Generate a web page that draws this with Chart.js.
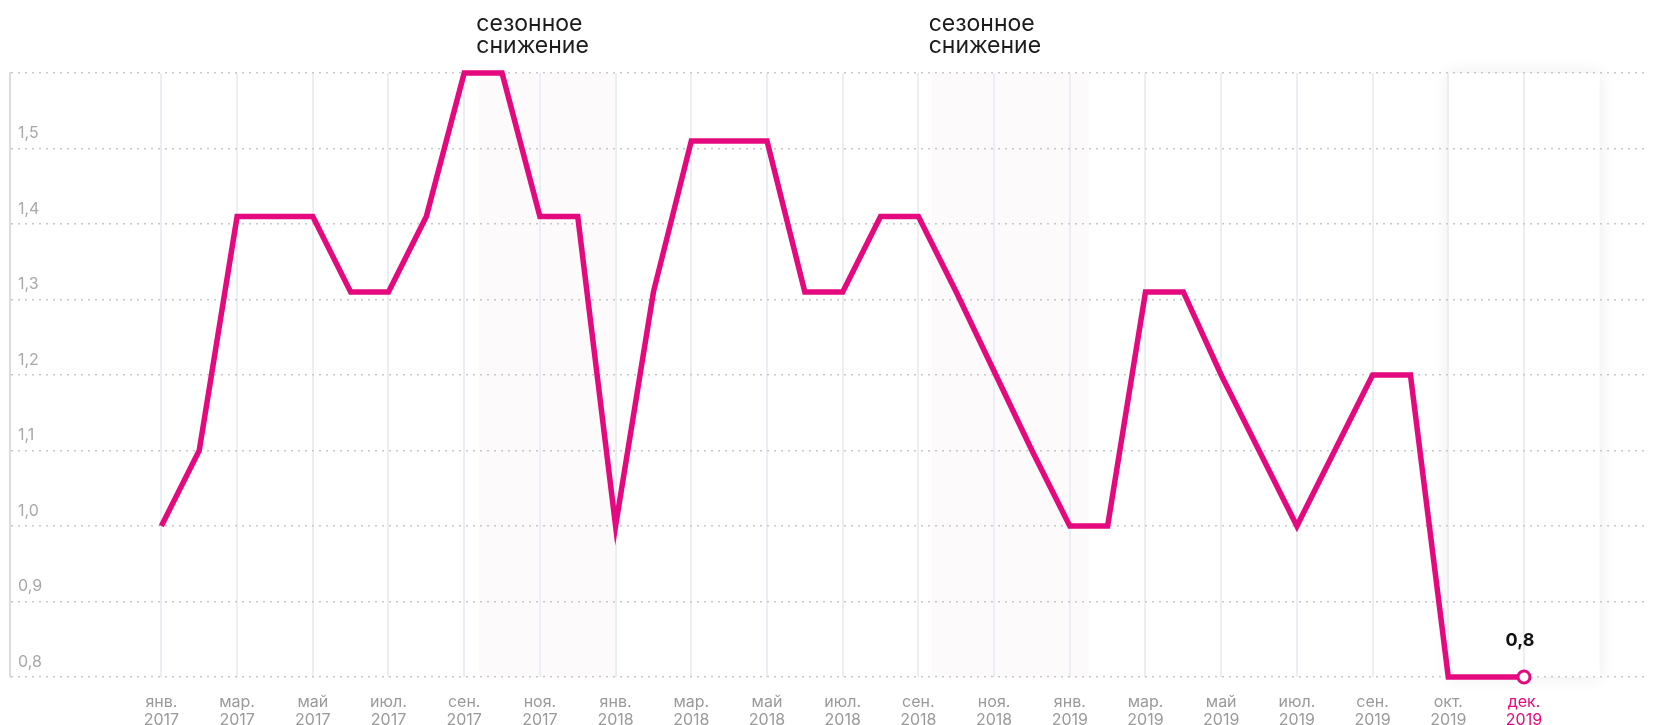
<!DOCTYPE html>
<html>
<head>
<meta charset="utf-8">
<script src="https://cdn.jsdelivr.net/npm/chart.js@4"></script>
<style>
    body { margin: 0; background: #fff; }
    .chart-wrap { position: relative; width: 1656px; height: 725px; }
</style>
</head>
<body>
<div class="chart-wrap"><canvas id="rateChart"></canvas></div>
<script>
// Monthly values, Jan 2017 .. Dec 2019 (index = month number)
const values = [
    1.0, 1.1, 1.41, 1.41, 1.41, 1.31, 1.31, 1.41, 1.6, 1.6, 1.41, 1.41,
    1.0, 1.31, 1.51, 1.51, 1.51, 1.31, 1.31, 1.41, 1.41, 1.31, 1.205, 1.1,
    1.0, 1.0, 1.31, 1.31, 1.2, 1.1, 1.0, 1.1, 1.2, 1.2, 0.8, 0.8, 0.8
];

// Tick labels, one for every second month
const tickMonths = ['янв.', 'мар.', 'май', 'июл.', 'сен.', 'ноя.', 'янв.', 'мар.', 'май', 'июл.',
    'сен.', 'ноя.', 'янв.', 'мар.', 'май', 'июл.', 'сен.', 'окт.', 'дек.'];
const tickYears = ['2017', '2017', '2017', '2017', '2017', '2017', '2018', '2018', '2018', '2018',
    '2018', '2018', '2019', '2019', '2019', '2019', '2019', '2019', '2019'];

const yTicks = [0.8, 0.9, 1.0, 1.1, 1.2, 1.3, 1.4, 1.5, 1.6];

// Seasonal decline periods (in month index units) and their caption
const seasonBands = [[8.4, 12.0], [20.35, 24.5]];
const seasonCaption = ['сезонное', 'снижение'];
const highlightRange = [34, 38];

const PINK = '#e5097f';
const FONT = 'Inter, "Open Sans", sans-serif';
const lastIdx = values.length - 1;

const decorPlugin = {
    id: 'decor',
    beforeDraw(chart) {
        const { ctx, scales: { x, y } } = chart;
        const top = y.getPixelForValue(1.6);
        const bottom = y.getPixelForValue(0.8);

        // seasonal bands
        ctx.save();
        ctx.fillStyle = '#fdfafc';
        seasonBands.forEach(b => {
            const x0 = x.getPixelForValue(b[0]);
            const x1 = x.getPixelForValue(b[1]);
            ctx.fillRect(x0, top, x1 - x0, bottom - top);
        });
        ctx.restore();

        // highlighted last period
        ctx.save();
        const hx0 = x.getPixelForValue(highlightRange[0]);
        const hx1 = x.getPixelForValue(highlightRange[1]);
        ctx.shadowColor = 'rgba(0,0,0,0.08)';
        ctx.shadowBlur = 16;
        ctx.fillStyle = '#fff';
        ctx.fillRect(hx0, top, hx1 - hx0, bottom - top);
        ctx.restore();

        // captions
        ctx.save();
        ctx.fillStyle = '#1c1c1c';
        ctx.font = '23px ' + FONT;
        ctx.textAlign = 'left';
        ctx.textBaseline = 'alphabetic';
        seasonBands.forEach(b => {
            const bx = x.getPixelForValue(b[0]) - 3;
            ctx.fillText(seasonCaption[0], bx, 31);
            ctx.fillText(seasonCaption[1], bx, 53);
        });
        ctx.restore();
    },
    afterDatasetsDraw(chart) {
        const { ctx } = chart;
        const pt = chart.getDatasetMeta(0).data[lastIdx];
        ctx.save();
        ctx.fillStyle = '#111';
        ctx.font = 'bold 18px ' + FONT;
        ctx.textAlign = 'center';
        ctx.textBaseline = 'middle';
        ctx.fillText(values[lastIdx].toString().replace('.', ','), pt.x - 4, pt.y - 36);
        ctx.restore();
    }
};

const ctx = document.getElementById('rateChart').getContext('2d');
new Chart(ctx, {
    type: 'line',
    data: {
        datasets: [{
            data: values.map((v, i) => ({ x: i, y: v })),
            borderColor: PINK,
            borderWidth: 5.5,
            fill: false,
            tension: 0,
            clip: false,
            pointRadius: values.map((v, i) => i === lastIdx ? 6 : 0),
            pointBackgroundColor: '#fff',
            pointBorderColor: PINK,
            pointBorderWidth: 3,
            pointHoverRadius: 0
        }]
    },
    options: {
        responsive: true,
        maintainAspectRatio: false,
        animation: false,
        layout: { padding: { top: 73, left: 0, right: 0, bottom: 0 } },
        plugins: {
            legend: { display: false },
            tooltip: { enabled: false }
        },
        scales: {
            x: {
                type: 'linear',
                min: -4,
                max: 39.25,
                afterFit: s => { s.height = 48; },
                afterBuildTicks: s => {
                    s.ticks = tickMonths.map((m, i) => ({ value: i * 2 }));
                },
                border: { display: false },
                grid: {
                    color: '#eceef5',
                    lineWidth: 2,
                    drawTicks: false
                },
                ticks: {
                    autoSkip: false,
                    maxRotation: 0,
                    padding: 16,
                    font: { family: FONT, size: 16, lineHeight: 1.12 },
                    color: c => c.tick && c.tick.value === 36 ? PINK : '#9a9a9a',
                    callback: v => [tickMonths[v / 2], tickYears[v / 2]]
                }
            },
            y: {
                min: 0.8,
                max: 1.6,
                afterFit: s => { s.width = 10; },
                afterBuildTicks: s => {
                    s.ticks = yTicks.map(v => ({ value: v }));
                },
                border: { display: true, color: '#dcdcdc', width: 2, dash: [2, 5] },
                grid: {
                    color: '#c8c8c8',
                    lineWidth: 1.6,
                    drawTicks: false
                },
                ticks: {
                    mirror: true,
                    padding: 8,
                    labelOffset: -15,
                    font: { family: FONT, size: 16 },
                    color: '#a8a8a8',
                    callback: v => v >= 1.55 ? '' : v.toFixed(1).replace('.', ',')
                }
            }
        }
    },
    plugins: [decorPlugin]
});
</script>
</body>
</html>
